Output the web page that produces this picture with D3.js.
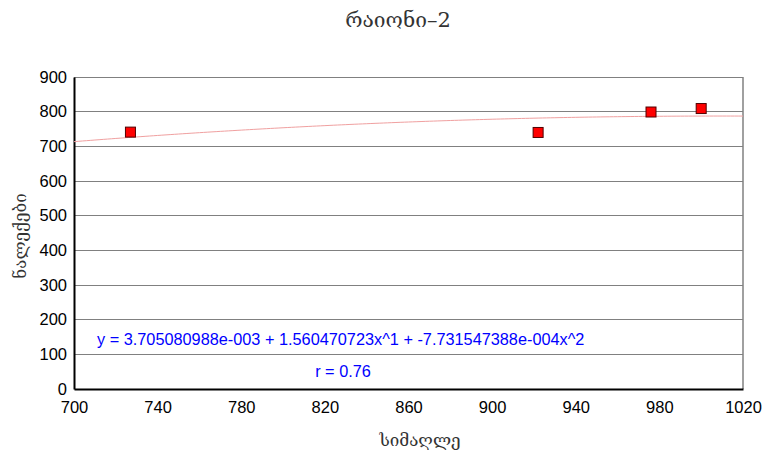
<!DOCTYPE html>
<html>
<head>
<meta charset="utf-8">
<script src="https://cdn.jsdelivr.net/npm/d3@7"></script>
<style>
  html, body { margin: 0; padding: 0; background: #fff; }
  svg { display: block; }
</style>
</head>
<body>
<svg id="chart" width="766" height="458"></svg>
<script>
// Station altitudes (m) and precipitation amounts
const altitudes = [727, 922, 976, 1000];
const precipitation = [741, 740, 799, 809];

// Quadratic trend coefficients: y = c0 + c1*x + c2*x^2
const trendCoefficients = [3.705080988e-3, 1.560470723, -7.731547388e-4];
const trendLabel = "y = 3.705080988e-003 + 1.560470723x^1 + -7.731547388e-004x^2";
const correlationLabel = "r = 0.76";

const xTicks = [700, 740, 780, 820, 860, 900, 940, 980, 1020];
const yTicks = [0, 100, 200, 300, 400, 500, 600, 700, 800, 900];

const titleText = "რაიონი–2";
const xTitle = "სიმაღლე";
const yTitle = "ნალექები";

const margin = { left: 74, right: 23, top: 77, bottom: 69 };
const W = 766, H = 458;
const iw = W - margin.left - margin.right;
const ih = H - margin.top - margin.bottom;

const svg = d3.select("#chart");
const g = svg.append("g").attr("transform", `translate(${margin.left},${margin.top})`);

const x = d3.scaleLinear().domain([700, 1020]).range([0, iw]);
const y = d3.scaleLinear().domain([0, 900]).range([ih, 0]);

const tickFont = "'Liberation Sans', Arial, sans-serif";
const geoFont = "'DejaVu Serif', 'DejaVu Sans', serif";

// Horizontal grid lines
g.append("g")
  .selectAll("line")
  .data(yTicks.filter(d => d > 0))
  .join("line")
  .attr("x1", 0).attr("x2", iw)
  .attr("y1", d => y(d)).attr("y2", d => y(d))
  .attr("stroke", "#808080").attr("stroke-width", 1)
  .attr("shape-rendering", "crispEdges");

// Right border
g.append("line")
  .attr("x1", iw).attr("x2", iw).attr("y1", 0).attr("y2", ih)
  .attr("stroke", "#808080").attr("stroke-width", 1.5);

// Axes
const xAxis = g.append("g")
  .attr("transform", `translate(0,${ih})`)
  .call(d3.axisBottom(x).tickValues(xTicks).tickFormat(d3.format("d")).tickSize(0).tickPadding(12));
const yAxis = g.append("g")
  .call(d3.axisLeft(y).tickValues(yTicks).tickFormat(d3.format("d")).tickSize(0).tickPadding(7));

[xAxis, yAxis].forEach(a => {
  a.select(".domain").attr("stroke", "#000").attr("stroke-width", 2);
  a.selectAll("text")
    .attr("font-family", tickFont)
    .attr("font-size", 16.5)
    .attr("fill", "#000");
});

// Trend curve from the fitted coefficients
const curveXs = d3.range(700, 1020.5, 2);
const trend = v => trendCoefficients[0] + trendCoefficients[1] * v + trendCoefficients[2] * v * v;
g.append("path")
  .datum(curveXs)
  .attr("fill", "none")
  .attr("stroke", "#f0a0a0")
  .attr("stroke-width", 1)
  .attr("d", d3.line().x(d => x(d)).y(d => y(trend(d))));

// Observation markers
const pts = altitudes.map((a, i) => ({ a, p: precipitation[i] }));
const sz = 10;
g.append("g")
  .selectAll("rect")
  .data(pts)
  .join("rect")
  .attr("x", d => x(d.a) - sz / 2)
  .attr("y", d => y(d.p) - sz / 2)
  .attr("width", sz).attr("height", sz)
  .attr("fill", "#ff0000")
  .attr("stroke", "#500000")
  .attr("stroke-width", 1);

// Regression annotation
g.append("text")
  .attr("x", 23).attr("y", 268)
  .attr("font-family", tickFont).attr("font-size", 16.3)
  .attr("fill", "#0000ff")
  .text(trendLabel);
g.append("text")
  .attr("x", 269).attr("y", 300)
  .attr("text-anchor", "middle")
  .attr("font-family", tickFont).attr("font-size", 16.3)
  .attr("fill", "#0000ff")
  .text(correlationLabel);

// Titles
svg.append("text")
  .attr("x", 398).attr("y", 27)
  .attr("text-anchor", "middle")
  .attr("font-family", geoFont).attr("font-size", 21)
  .attr("fill", "#333")
  .text(titleText);
svg.append("text")
  .attr("x", 420).attr("y", 446)
  .attr("text-anchor", "middle")
  .attr("font-family", geoFont).attr("font-size", 17)
  .attr("fill", "#333")
  .text(xTitle);
svg.append("text")
  .attr("transform", "translate(26,236) rotate(-90)")
  .attr("text-anchor", "middle")
  .attr("font-family", geoFont).attr("font-size", 17)
  .attr("fill", "#333")
  .text(yTitle);
</script>
</body>
</html>
